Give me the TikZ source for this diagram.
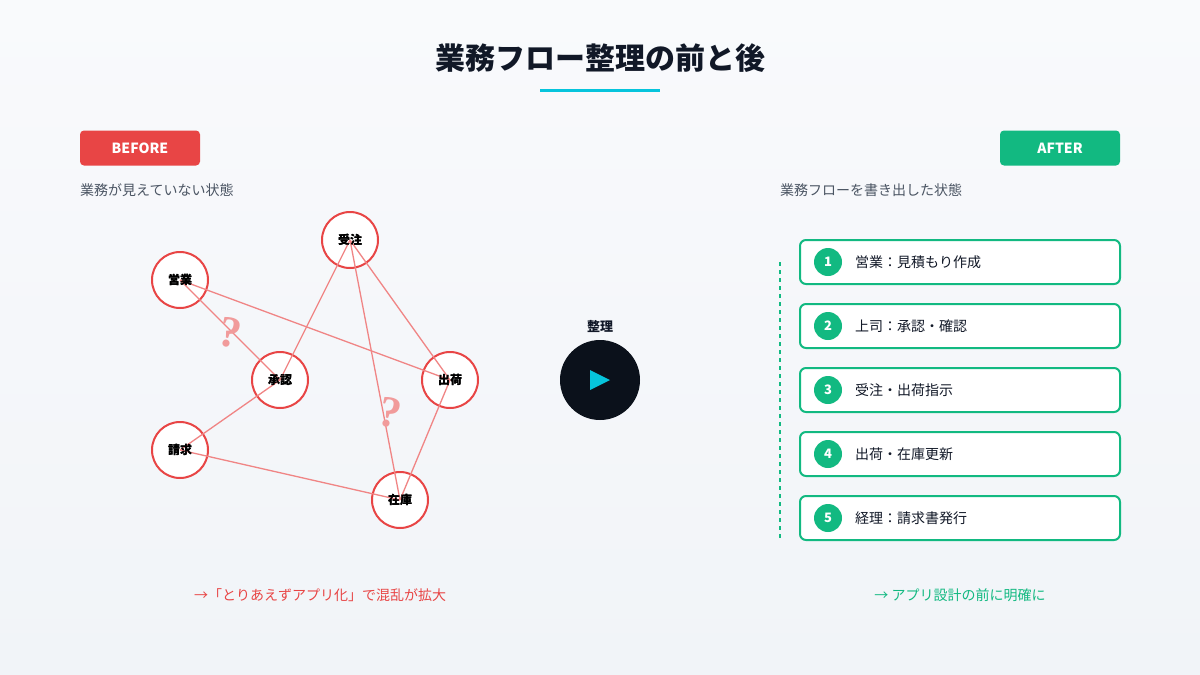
\documentclass[tikz,border=0pt]{standalone}
\usepackage{xcolor}
\usepackage{fontspec}
\setmainfont{Noto Sans CJK JP}
\newfontfamily\qfont{Liberation Serif}
\usetikzlibrary{positioning}

\definecolor{bgtop}{HTML}{F9FAFC}
\definecolor{bgbot}{HTML}{F1F4F8}
\definecolor{redmain}{HTML}{E84545}
\definecolor{redline}{HTML}{F08585}
\definecolor{redq}{HTML}{F19B9B}
\definecolor{greenmain}{HTML}{12B981}
\definecolor{cyanmain}{HTML}{06C4DC}
\definecolor{darkbg}{HTML}{0B111B}
\definecolor{subgray}{HTML}{4B5563}
\definecolor{textdark}{HTML}{111827}

\tikzset{
    badge/.style={rectangle, rounded corners=4pt, minimum width=120pt, minimum height=35pt, inner sep=0pt, text=white, font=\bfseries\fontsize{14}{16}\selectfont},
    subtitle/.style={anchor=west, inner sep=0pt, text=subgray, font=\fontsize{14}{16}\selectfont},
    task/.style={circle, draw=redmain, line width=2pt, fill=white, minimum size=56pt, inner sep=0pt, text=black, font=\bfseries\fontsize{12}{14}\selectfont},
    link/.style={draw=redline, line width=1.3pt},
    qmark/.style={text=redq, font=\qfont\bfseries\fontsize{44}{44}\selectfont, rotate=-12, inner sep=0pt},
    stepbox/.style={rectangle, rounded corners=6pt, draw=greenmain, line width=2pt, fill=white, minimum width=320pt, minimum height=44pt, inner sep=0pt},
    stepnum/.style={circle, fill=greenmain, minimum size=28pt, inner sep=0pt, text=white, font=\bfseries\fontsize{13}{15}\selectfont},
    steptext/.style={anchor=west, inner sep=0pt, text=textdark, font=\fontsize{14}{16}\selectfont}
}

\begin{document}
\begin{tikzpicture}[x=1pt, y=-1pt]
    % Background
    \shade[top color=bgtop, bottom color=bgbot] (0,0) rectangle (1200,675);
    \useasboundingbox (0,0) rectangle (1200,675);

    % Title
    \node (Title) [inner sep=0pt, text=textdark, font=\bfseries\fontsize{30}{34}\selectfont] at (600,58) {業務フロー整理の前と後};
    \draw [cyanmain, line width=3pt] (540,90) -- (660,90);

    % Badges
    \node (Before) [badge, fill=redmain] at (140,148) {BEFORE};
    \node (After) [badge, fill=greenmain] at (1060,148) {AFTER};
    \node (BeforeSub) [subtitle] at (80,190) {業務が見えていない状態};
    \node (AfterSub) [subtitle] at (780,190) {業務フローを書き出した状態};

    % Nodes
    \node (Sales) [task] at (180,280) {営業};
    \node (Order) [task] at (350,240) {受注};
    \node (Approve) [task] at (280,380) {承認};
    \node (Ship) [task] at (450,380) {出荷};
    \node (Bill) [task] at (180,450) {請求};
    \node (Stock) [task] at (400,500) {在庫};

    % Tangled links
    \draw [link] (Sales.center) -- (Approve.center);
    \draw [link] (Sales.center) -- (Ship.center);
    \draw [link] (Order.center) -- (Approve.center);
    \draw [link] (Order.center) -- (Ship.center);
    \draw [link] (Order.center) -- (Stock.center);
    \draw [link] (Ship.center) -- (Stock.center);
    \draw [link] (Approve.center) -- (Bill.center);
    \draw [link] (Bill.center) -- (Stock.center);

    % Labels on top of links
    \foreach \n/\t in {Sales/営業, Order/受注, Approve/承認, Ship/出荷, Bill/請求, Stock/在庫}
        \node [inner sep=0pt, text=black, font=\bfseries\fontsize{12}{14}\selectfont] at (\n) {\t};

    \node (Q1) [qmark] at (230,333) {?};
    \node (Q2) [qmark] at (390,413) {?};

    % Middle
    \node (Sort) [inner sep=0pt, text=textdark, font=\bfseries\fontsize{13}{15}\selectfont] at (600,326) {整理};
    \node (Play) [circle, fill=darkbg, minimum size=80pt, inner sep=0pt] at (600,380) {};
    \fill [cyanmain] ([xshift=-10pt, yshift=10pt]Play.center) -- ([xshift=10pt]Play.center) -- ([xshift=-10pt, yshift=-10pt]Play.center) -- cycle;

    % Flow list
    \coordinate (LineTop) at (780,262);
    \coordinate (LineBot) at (780,540);
    \draw [greenmain, line width=2pt, dash pattern=on 4pt off 4pt] (LineTop) -- (LineBot);
    \foreach \i/\t [evaluate=\i as \yy using 262+(\i-1)*64] in {1/営業：見積もり作成, 2/上司：承認・確認, 3/受注・出荷指示, 4/出荷・在庫更新, 5/経理：請求書発行} {
        \node (Step\i) [stepbox] at (960,\yy) {};
        \node (Num\i) [stepnum] at (828,\yy) {\i};
        \node (Text\i) [steptext] at (855,\yy) {\t};
    }

    % Footers
    \node (BeforeNote) [inner sep=0pt, text=redmain, font=\fontsize{14}{16}\selectfont] at (320,595) {→「とりあえずアプリ化」で混乱が拡大};
    \node (AfterNote) [inner sep=0pt, text=greenmain, font=\fontsize{14}{16}\selectfont] at (960,595) {→ アプリ設計の前に明確に};
\end{tikzpicture}
\end{document}
